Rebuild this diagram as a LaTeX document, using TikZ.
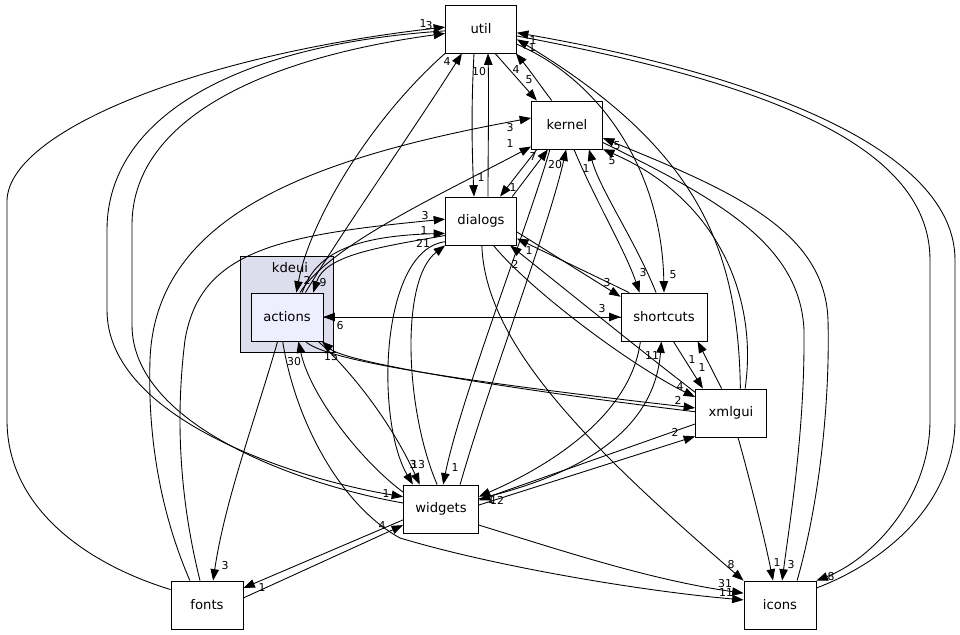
\documentclass[tikz,border=0pt]{standalone}
\usepackage{fontspec}
\setmainfont{DejaVu Sans}
\usetikzlibrary{arrows.meta}
\definecolor{clusterfill}{HTML}{DDDDEE}
\definecolor{actfill}{HTML}{EEEEFF}

\begin{document}
\begin{tikzpicture}[x=0.02cm,y=-0.02cm,
  dir/.style={draw,line width=0.5pt,fill=white,minimum width=1.42cm,minimum height=0.96cm,inner sep=0pt,font=\fontsize{7.5}{9}\selectfont},
  dep/.style={line width=0.5pt,-{Triangle[length=6.5pt,width=4.8pt]}},
  cnt/.style={inner sep=0pt,font=\fontsize{6.2}{7}\selectfont}]
  \useasboundingbox (0,0) rectangle (960,635);
  % cluster kdeui
  \node[draw,line width=0.5pt,fill=clusterfill,minimum width=1.86cm,minimum height=1.92cm] (kdeui) at (286.5,304) {};
  \node[inner sep=0pt,font=\fontsize{7.5}{9}\selectfont] (kdeuilabel) at (290,268) {kdeui};
  % directories
  \node[dir] (util) at (481,29) {util};
  \node[dir] (kernel) at (567,125) {kernel};
  \node[dir] (dialogs) at (481,221) {dialogs};
  \node[dir,fill=actfill,minimum width=1.44cm] (actions) at (287,317) {actions};
  \node[dir,minimum width=1.72cm] (shortcuts) at (664,317) {shortcuts};
  \node[dir] (xmlgui) at (731,413) {xmlgui};
  \node[dir,minimum width=1.5cm] (widgets) at (441,509) {widgets};
  \node[dir,minimum width=1.44cm] (fonts) at (207,605) {fonts};
  \node[dir,minimum width=1.44cm] (icons) at (780,605) {icons};

  % dependencies into util
  \draw[dep] (fonts.157) .. controls (90,565) and (7,510) .. (7,420) -- (7,200) .. controls (10,130) and (200,55) .. (util.177) node[cnt] at (423,24) {1};
  \draw[dep] (widgets.171) .. controls (300,485) and (132,425) .. (132,325) -- (132,225) .. controls (132,125) and (250,60) .. (util.187) node[cnt] at (429,26) {3};
  \draw[dep] (actions.53) .. controls (340,235) and (420,120) .. (util.-128) node[cnt] at (447,62) {4};
  \draw[dep] (dialogs.74) .. controls (488,150) and (489,100) .. (util.-74) node[cnt] at (479,72) {10};
  \draw[dep] (kernel.122) .. controls (540,85) and (528,68) .. (util.-35) node[cnt] at (516,70) {4};
  \draw[dep] (xmlgui.69) .. controls (738,250) and (700,150) .. (util.-16) node[cnt] at (532,48) {1};
  \draw[dep] (icons.25) .. controls (890,560) and (955,500) .. (955,420) -- (955,260) .. controls (955,150) and (760,75) .. (util.-6) node[cnt] at (533,41) {1};

  % dependencies from util
  \draw[dep] (util.183) .. controls (230,45) and (107,120) .. (107,230) -- (107,310) .. controls (107,420) and (300,480) .. (widgets.162) node[cnt] at (386,494) {1};
  \draw[dep] (util.south west) .. controls (370,120) and (310,220) .. (actions.69) node[cnt] at (307,280) {2};
  \draw[dep] (util.-106) .. controls (471,110) and (472,150) .. (dialogs.106) node[cnt] at (481,178) {1};
  \draw[dep] (util.-60) -- (kernel.141) node[cnt] at (529,80) {5};
  \draw[dep] (util.-23) .. controls (600,80) and (662,170) .. (shortcuts.north) node[cnt] at (673,275) {5};
  \draw[dep] (util.-11) .. controls (750,80) and (930,140) .. (930,260) -- (930,420) .. controls (930,500) and (870,560) .. (icons.north east) node[cnt] at (831,577) {8};

  % kernel
  \draw[dep] (kernel.-141) -- (dialogs.52) node[cnt] at (513,188) {1};
  \draw[dep] (dialogs.38) -- (kernel.-128) node[cnt] at (533,157) {7};
  \draw[dep] (widgets.52) .. controls (490,380) and (548,230) .. (kernel.-92) node[cnt] at (555,165) {20};
  \draw[dep] (kernel.-125) .. controls (530,220) and (460,400) .. (widgets.85) node[cnt] at (455,468) {1};
  \draw[dep] (actions.62) .. controls (330,245) and (440,195) .. (kernel.-149) node[cnt] at (510,144) {1};
  \draw[dep] (fonts.125) .. controls (155,500) and (148,420) .. (150,360) .. controls (155,220) and (300,160) .. (kernel.169) node[cnt] at (510,128) {3};
  \draw[dep] (kernel.-74) .. controls (595,200) and (625,250) .. (shortcuts.135) node[cnt] at (643,273) {3};
  \draw[dep] (shortcuts.108) .. controls (635,240) and (600,190) .. (kernel.-48) node[cnt] at (586,169) {1};
  \draw[dep] (xmlgui.60) .. controls (758,300) and (720,200) .. (kernel.-34) node[cnt] at (612,161) {5};
  \draw[dep] (icons.55) .. controls (820,500) and (830,400) .. (828,320) .. controls (825,230) and (730,190) .. (kernel.-20) node[cnt] at (617,146) {5};
  \draw[dep] (kernel.-26) .. controls (720,200) and (800,245) .. (804,330) .. controls (805,430) and (790,520) .. (icons.85) node[cnt] at (791,565) {3};

  % dialogs
  \draw[dep] (fonts.106) .. controls (180,500) and (175,420) .. (185,340) .. controls (200,250) and (280,235) .. (dialogs.177) node[cnt] at (425,216) {3};
  \draw[dep] (actions.58) .. controls (315,255) and (350,236) .. (dialogs.199) node[cnt] at (424,231) {1};
  \draw[dep] (widgets.99) .. controls (405,410) and (400,280) .. (dialogs.south west) node[cnt] at (423,243) {21};
  \draw[dep] (dialogs.-158) .. controls (380,247) and (325,255) .. (actions.43) node[cnt] at (323,283) {9};
  \draw[dep] (dialogs.-150) .. controls (380,250) and (375,420) .. (widgets.139) node[cnt] at (418,465) {13};
  \draw[dep] (dialogs.-17) -- (shortcuts.155) node[cnt] at (607,283) {3};
  \draw[dep] (shortcuts.145) -- (dialogs.-26) node[cnt] at (529,251) {1};
  \draw[dep] (dialogs.-63) .. controls (530,290) and (630,365) .. (xmlgui.156) node[cnt] at (680,387) {4};
  \draw[dep] (xmlgui.150) .. controls (640,350) and (560,285) .. (dialogs.-40) node[cnt] at (515,264) {2};
  \draw[dep] (dialogs.-88) .. controls (485,340) and (580,440) .. (icons.north west) node[cnt] at (731,565) {8};

  % actions
  \draw[dep] (actions.east) -- (shortcuts.west) node[cnt] at (602,309) {3};
  \draw[dep] (shortcuts.west) -- (actions.east) node[cnt] at (340,326) {6};
  \draw[dep] (actions.-53) .. controls (325,360) and (450,380) .. (xmlgui.172) node[cnt] at (678,400) {2};
  \draw[dep] (xmlgui.178) .. controls (500,388) and (345,362) .. (actions.-35) node[cnt] at (331,357) {15};
  \draw[dep] (actions.-38) .. controls (350,370) and (390,420) .. (widgets.131) node[cnt] at (413,465) {3};
  \draw[dep] (widgets.156) .. controls (360,460) and (310,395) .. (actions.-65) node[cnt] at (294,362) {30};
  \draw[dep] (actions.-111) .. controls (255,420) and (225,500) .. (fonts.76) node[cnt] at (225,566) {3};
  \draw[dep] (actions.-100) .. controls (295,420) and (340,505) .. (400,538) .. controls (500,568) and (650,592) .. (icons.172) node[cnt] at (726,593) {11};

  % shortcuts, xmlgui, widgets, fonts
  \draw[dep] (shortcuts.-69) -- (xmlgui.139) node[cnt] at (702,368) {1};
  \draw[dep] (xmlgui.111) -- (shortcuts.-36) node[cnt] at (692,360) {1};
  \draw[dep] (shortcuts.-134) .. controls (630,420) and (540,470) .. (widgets.18) node[cnt] at (491,500) {1};
  \draw[dep] (widgets.15) .. controls (600,470) and (655,420) .. (shortcuts.-96) node[cnt] at (652,356) {11};
  \draw[dep] (xmlgui.197) -- (widgets.13) node[cnt] at (497,500) {12};
  \draw[dep] (widgets.6) -- (xmlgui.213) node[cnt] at (675,432) {2};
  \draw[dep] (xmlgui.-74) .. controls (750,480) and (765,540) .. (icons.106) node[cnt] at (777,563) {1};
  \draw[dep] (fonts.11) -- (widgets.-157) node[cnt] at (382,526) {4};
  \draw[dep] (widgets.-164) -- (fonts.25) node[cnt] at (262,588) {1};
  \draw[dep] (widgets.-23) .. controls (560,550) and (650,580) .. (icons.162) node[cnt] at (725,584) {31};
\end{tikzpicture}
\end{document}
